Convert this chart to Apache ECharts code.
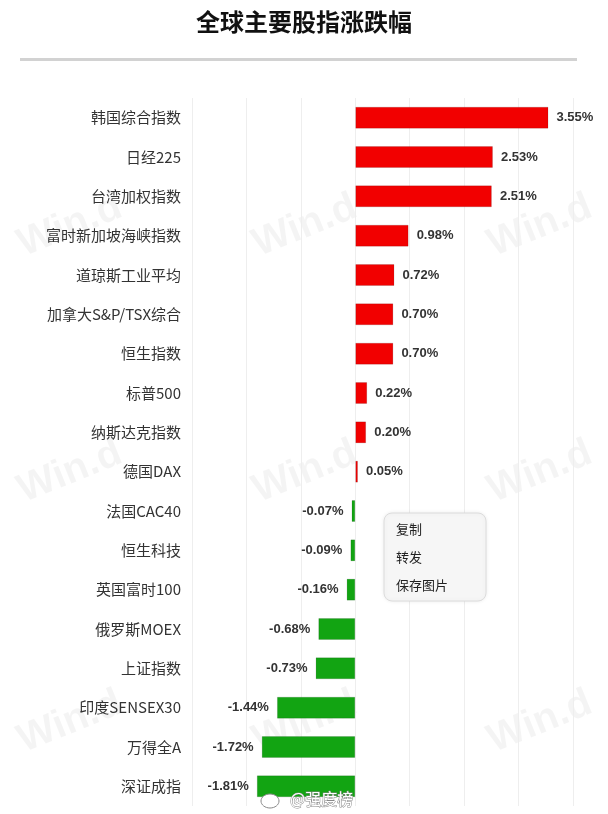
<!DOCTYPE html>
<html>
<head>
<meta charset="utf-8">
<script src="https://cdn.jsdelivr.net/npm/echarts@6/dist/echarts.min.js"></script>
<style>
html, body { margin: 0; padding: 0; background: #fff; }
#main { width: 608px; height: 814px; }
</style>
</head>
<body>
<div id="main"></div>
<script>
// 指数名称
var indexNames = ['韩国综合指数', '日经225', '台湾加权指数', '富时新加坡海峡指数', '道琼斯工业平均',
    '加拿大S&P/TSX综合', '恒生指数', '标普500', '纳斯达克指数', '德国DAX', '法国CAC40', '恒生科技',
    '英国富时100', '俄罗斯MOEX', '上证指数', '印度SENSEX30', '万得全A', '深证成指'];
// 涨跌幅 (%)
var changeValues = [3.55, 2.53, 2.51, 0.98, 0.72, 0.70, 0.70, 0.22, 0.20, 0.05, -0.07, -0.09,
    -0.16, -0.68, -0.73, -1.44, -1.72, -1.81];
var menuItems = ['复制', '转发', '保存图片'];

var colorUp = '#f20000';
var colorDown = '#12a412';

var chart = echarts.init(document.getElementById('main'));

// 水印 Win.d
var marks = [];
[70, 305, 540].forEach(function (x) {
    [226, 472, 722].forEach(function (y) {
        marks.push({
            type: 'text', x: x, y: y, rotation: 22 * Math.PI / 180, z: 0,
            style: {
                text: 'Win.d', fill: 'rgba(0,0,0,0.045)', align: 'center', verticalAlign: 'middle',
                font: 'bold 40px "Liberation Sans", Arial, sans-serif'
            }
        });
    });
});

var option = {
    animation: false,
    title: {
        text: '全球主要股指涨跌幅',
        left: 'center',
        top: 5,
        textStyle: { fontSize: 24, fontWeight: 'bold', color: '#111', fontFamily: '"Noto Sans CJK SC", sans-serif' }
    },
    grid: { left: 192, right: 35, top: 98, bottom: 8 },
    xAxis: {
        type: 'value',
        min: -3,
        max: 4,
        interval: 1,
        axisLabel: { show: false },
        axisLine: { show: false },
        axisTick: { show: false },
        splitLine: { lineStyle: { color: '#eeeeee', width: 1 } }
    },
    yAxis: {
        type: 'category',
        data: indexNames,
        inverse: true,
        axisLine: { show: false },
        axisTick: { show: false },
        axisLabel: { color: '#333', fontSize: 15, margin: 11, fontFamily: '"Noto Sans CJK SC", sans-serif' }
    },
    series: [{
        type: 'bar',
        // 负值标签放在柱子左侧
        data: changeValues.map(function (v) {
            return v < 0 ? { value: v, label: { position: 'left' } } : v;
        }),
        barWidth: 22,
        z: 3,
        itemStyle: {
            color: function (p) { return p.value >= 0 ? colorUp : colorDown; },
            borderColor: 'rgba(0,0,0,0.12)',
            borderWidth: 1
        },
        label: {
            show: true,
            position: 'right',
            distance: 8,
            color: '#333',
            fontSize: 13,
            fontWeight: 'bold',
            fontFamily: '"Liberation Sans", Arial, sans-serif',
            formatter: function (p) { return p.value.toFixed(2) + '%'; }
        }
    }],
    graphic: marks.concat([
        { type: 'rect', shape: { x: 20, y: 58, width: 557, height: 3 }, style: { fill: '#d2d2d2' } },
        {
            type: 'rect', z: 20,
            shape: { x: 384, y: 513, width: 102, height: 88, r: 8 },
            style: { fill: '#f6f6f6', stroke: '#dcdcdc', lineWidth: 1, shadowBlur: 4, shadowColor: 'rgba(0,0,0,0.08)' }
        }
    ]).concat(menuItems.map(function (t, i) {
        return {
            type: 'text', z: 21, x: 396, y: 529 + i * 28,
            style: { text: t, fill: '#222', fontSize: 13, verticalAlign: 'middle', fontFamily: '"Noto Sans CJK SC", sans-serif' }
        };
    })).concat([
        {
            type: 'text', z: 21, x: 290, y: 799,
            style: {
                text: '@强度榜', fill: '#fff', stroke: '#888', lineWidth: 1, fontSize: 16,
                verticalAlign: 'middle', fontFamily: '"Noto Sans CJK SC", sans-serif'
            }
        },
        {
            type: 'ellipse', z: 21, shape: { cx: 270, cy: 801, rx: 9, ry: 7 },
            style: { fill: '#fff', stroke: '#888', lineWidth: 1 }
        }
    ])
};

chart.setOption(option);
</script>
</body>
</html>
